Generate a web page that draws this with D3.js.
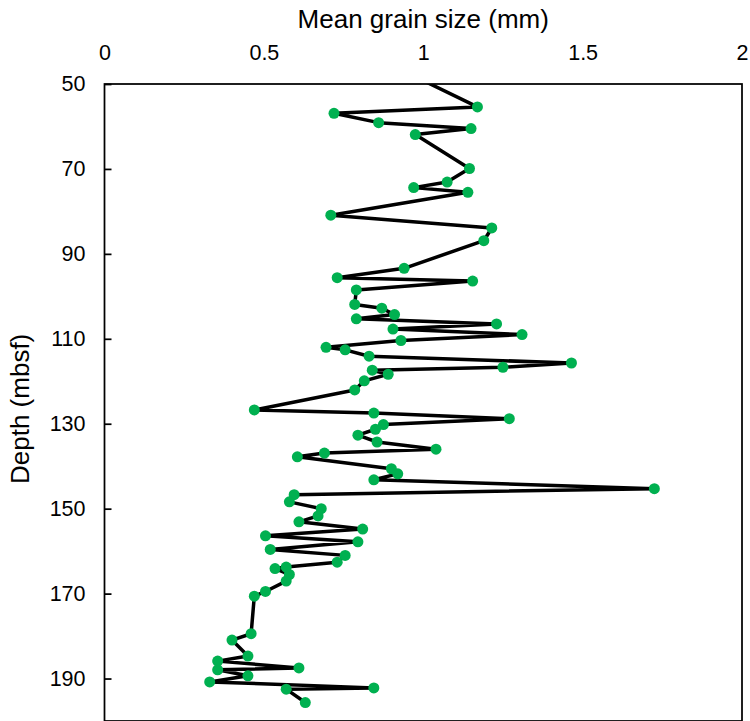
<!DOCTYPE html>
<html>
<head>
<meta charset="utf-8">
<script src="https://cdn.jsdelivr.net/npm/d3@7.9.0/dist/d3.min.js"></script>
<style>
  body { margin: 0; background: #fff; }
  text { font-family: "Liberation Sans", Arial, sans-serif; fill: #000; }
</style>
</head>
<body>
<svg id="chart" width="750" height="721"></svg>
<script>
// Mean grain size (mm) down the core
const grainSize = [
  0.94, 1.17, 0.72, 0.86, 1.15, 0.975, 1.145, 1.075, 0.97, 1.14,
  0.71, 1.215, 1.19, 0.94, 0.73, 1.155, 0.79, 0.785, 0.87, 0.91,
  0.79, 1.23, 0.905, 1.31, 0.93, 0.695, 0.755, 0.83, 1.465, 1.25,
  0.84, 0.89, 0.815, 0.785, 0.47, 0.845, 1.27, 0.875, 0.85, 0.795,
  0.855, 1.04, 0.69, 0.605, 0.90, 0.92, 0.845, 1.725, 0.595, 0.58,
  0.68, 0.67, 0.61, 0.81, 0.505, 0.795, 0.52, 0.755, 0.73, 0.57,
  0.535, 0.58, 0.57, 0.505, 0.47, 0.46, 0.40, 0.45, 0.355, 0.61,
  0.355, 0.45, 0.33, 0.845, 0.57, 0.63
];
// Depth (mbsf) for each sample
const depth = [
  47, 55.4, 56.9, 59.1, 60.5, 61.9, 69.9, 73.1, 74.4, 75.5,
  80.9, 83.9, 86.9, 93.4, 95.6, 96.4, 98.5, 101.9, 102.8, 104.3,
  105.3, 106.5, 107.7, 109.0, 110.4, 112.0, 112.6, 114.1, 115.7, 116.7,
  117.4, 118.35, 119.9, 122.05, 126.75, 127.5, 128.8, 130.2, 131.3, 132.7,
  134.3, 136.0, 136.9, 137.8, 140.6, 141.8, 143.2, 145.3, 146.7, 148.4,
  150.0, 151.7, 153.1, 154.8, 156.4, 157.8, 159.6, 161.0, 162.6, 163.75,
  164.1, 165.5, 167.05, 169.5, 170.6, 179.45, 180.95, 184.7, 185.9, 187.5,
  187.95, 189.35, 190.8, 192.2, 192.5, 195.65
];
const xTicks = [0, 0.5, 1, 1.5, 2];
const yTicks = [50, 70, 90, 110, 130, 150, 170, 190];

const data = depth.map((d, i) => ({ depth: d, size: grainSize[i] }));

const margin = { top: 84, left: 104.5, right: 8, bottom: 0 };
const width = 750 - margin.left - margin.right;
const height = 721 - margin.top - margin.bottom;

const svg = d3.select('#chart');
const g = svg.append('g').attr('transform', `translate(${margin.left},${margin.top})`);

const x = d3.scaleLinear().domain([0, 2]).range([0, width]);
const y = d3.scaleLinear().domain([50, 200]).range([0, height]);

svg.append('defs').append('clipPath').attr('id', 'clip')
  .append('rect').attr('width', width).attr('height', height);

// top axis, labels only
const xAxis = g.append('g')
  .call(d3.axisTop(x).tickValues(xTicks).tickFormat(d3.format('')).tickSize(0).tickPadding(24));
xAxis.select('.domain').remove();
xAxis.selectAll('text').attr('font-size', 21.5).attr('font-family', '"Liberation Sans", Arial, sans-serif');

// left axis with short inward ticks
const yAxis = g.append('g')
  .call(d3.axisLeft(y).tickValues(yTicks).tickSize(-7).tickPadding(19));
yAxis.select('.domain').remove();
yAxis.selectAll('line').attr('stroke', '#000').attr('stroke-width', 1.75);
yAxis.selectAll('text').attr('font-size', 21.5).attr('font-family', '"Liberation Sans", Arial, sans-serif');

// plot frame
g.append('rect')
  .attr('width', width).attr('height', height)
  .attr('fill', 'none').attr('stroke', '#000').attr('stroke-width', 1.75);

const plot = g.append('g').attr('clip-path', 'url(#clip)');

plot.append('path')
  .datum(data)
  .attr('fill', 'none')
  .attr('stroke', '#000')
  .attr('stroke-width', 3.5)
  .attr('stroke-linejoin', 'round')
  .attr('d', d3.line().x(d => x(d.size)).y(d => y(d.depth)));

plot.selectAll('circle')
  .data(data)
  .join('circle')
  .attr('cx', d => x(d.size))
  .attr('cy', d => y(d.depth))
  .attr('r', 5.5)
  .attr('fill', '#00B050');

// titles
svg.append('text')
  .attr('x', margin.left + width / 2)
  .attr('y', 28)
  .attr('text-anchor', 'middle')
  .attr('font-size', 26)
  .text('Mean grain size (mm)');

svg.append('text')
  .attr('transform', `translate(29,${margin.top + y(126.5)}) rotate(-90)`)
  .attr('text-anchor', 'middle')
  .attr('font-size', 26)
  .text('Depth (mbsf)');
</script>
</body>
</html>
